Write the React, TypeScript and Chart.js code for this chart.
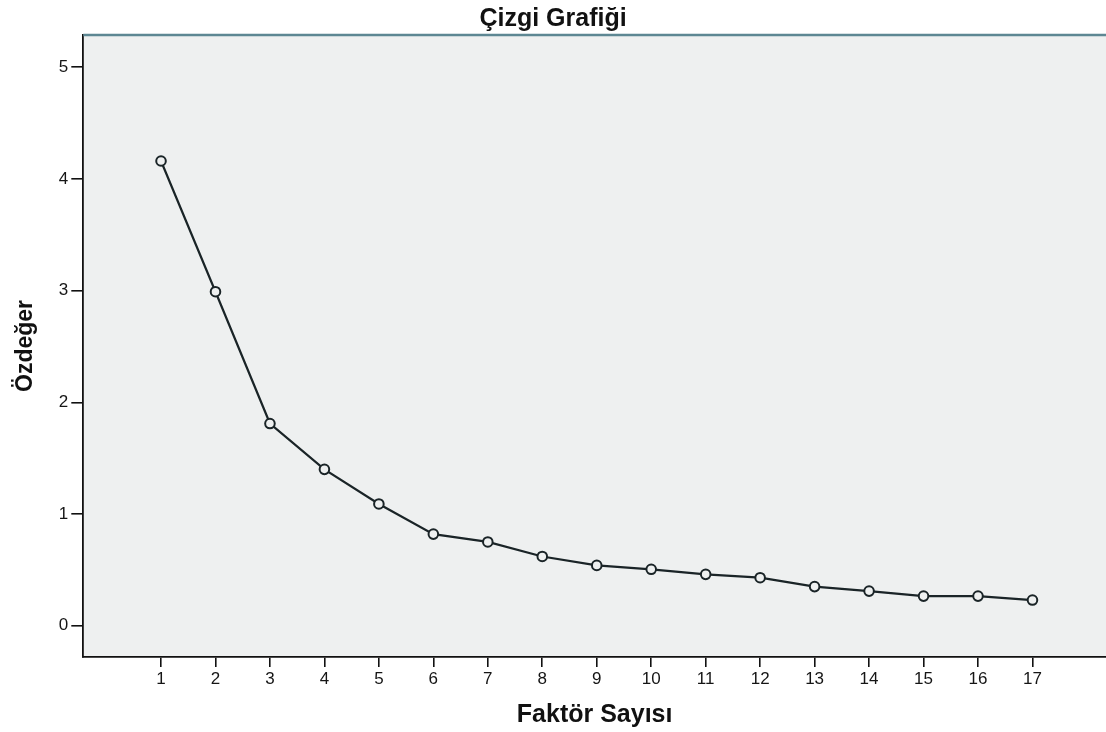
import React, { useEffect, useRef } from "react";
import { Chart, registerables } from "chart.js";

Chart.register(...registerables);

const factors = [1, 2, 3, 4, 5, 6, 7, 8, 9, 10, 11, 12, 13, 14, 15, 16, 17];
const eigenvalues = [4.16, 2.99, 1.81, 1.40, 1.09, 0.82, 0.75, 0.62, 0.54, 0.505, 0.46, 0.43, 0.35, 0.31, 0.265, 0.265, 0.23];
const yTickValues = [0, 1, 2, 3, 4, 5];
const xTickValues = factors;
const titleText = "Çizgi Grafiği";
const xTitle = "Faktör Sayısı";
const yTitle = "Özdeğer";

const FONT = "'Liberation Sans', Arial, Helvetica, sans-serif";
const PLOT_BG = "#eef0f0";

const frame = {
  id: "frame",
  beforeDraw(chart: any) {
    const { ctx, chartArea } = chart;
    ctx.save();
    ctx.fillStyle = PLOT_BG;
    ctx.fillRect(chartArea.left, chartArea.top, chartArea.right - chartArea.left, chartArea.bottom - chartArea.top);
    ctx.restore();
  },
  afterDraw(chart: any) {
    const { ctx, chartArea } = chart;
    ctx.save();
    ctx.strokeStyle = "#5d8793";
    ctx.lineWidth = 2.5;
    ctx.beginPath();
    ctx.moveTo(chartArea.left, chartArea.top);
    ctx.lineTo(chart.width, chartArea.top);
    ctx.stroke();
    ctx.restore();
  },
};

export default function App() {
  const ref = useRef<HTMLCanvasElement | null>(null);
  useEffect(() => {
    document.body.style.margin = "0";
    const canvas = ref.current;
    if (!canvas) return;
    const chart = new Chart(canvas, {
      type: "line",
      data: {
        datasets: [
          {
            data: factors.map((f, i) => ({ x: f, y: eigenvalues[i] })),
            borderColor: "#1a2427",
            borderWidth: 2.2,
            pointRadius: 4.8,
            pointBorderWidth: 2,
            pointBorderColor: "#1a2427",
            pointBackgroundColor: PLOT_BG,
            tension: 0,
          },
        ],
      },
      plugins: [frame],
      options: {
        responsive: false,
        animation: false,
        devicePixelRatio: 1,
        layout: { padding: 0, autoPadding: false },
        plugins: {
          legend: { display: false },
          tooltip: { enabled: false },
          title: {
            display: true,
            text: titleText,
            color: "#111",
            font: { family: FONT, size: 25, weight: "bold" },
            padding: { top: 4, bottom: 1 },
          },
        },
        scales: {
          x: {
            type: "linear",
            min: -0.427,
            max: 18.35,
            afterFit: (s: any) => {
              s.height = 75;
              s.paddingLeft = 0;
              s.paddingRight = 0;
            },
            afterBuildTicks: (s: any) => {
              s.ticks = xTickValues.map((v) => ({ value: v }));
            },
            ticks: {
              color: "#151515",
              font: { family: FONT, size: 17 },
              padding: 2,
              autoSkip: false,
              maxRotation: 0,
              callback: (v: any) => String(v),
            },
            grid: { drawOnChartArea: false, drawTicks: true, tickLength: 10, color: "#111", lineWidth: 1.6 },
            border: { display: true, color: "#111", width: 1.8 },
            title: {
              display: true,
              text: xTitle,
              color: "#111",
              font: { family: FONT, size: 25, weight: "bold" },
              padding: { top: 0, bottom: 2 },
            },
          },
          y: {
            type: "linear",
            min: -0.28,
            max: 5.288,
            afterFit: (s: any) => {
              s.width = 83.3;
              s.paddingTop = 0;
              s.paddingBottom = 0;
            },
            afterBuildTicks: (s: any) => {
              s.ticks = yTickValues.map((v) => ({ value: v }));
            },
            ticks: {
              color: "#151515",
              font: { family: FONT, size: 17 },
              padding: 3,
              callback: (v: any) => String(v),
            },
            grid: { drawOnChartArea: false, drawTicks: true, tickLength: 12, color: "#111", lineWidth: 1.6 },
            border: { display: true, color: "#111", width: 1.8 },
            title: {
              display: true,
              text: yTitle,
              color: "#111",
              font: { family: FONT, size: 23, weight: "bold" },
              padding: { top: 12, bottom: 0 },
            },
          },
        },
      },
    } as any);
    return () => chart.destroy();
  }, []);
  return (
    <div style={{ position: "absolute", left: 0, top: 0, width: 1106, height: 732, background: "#fff" }}>
      <canvas ref={ref} width={1106} height={732} style={{ width: 1106, height: 732, display: "block" }} />
    </div>
  );
}
